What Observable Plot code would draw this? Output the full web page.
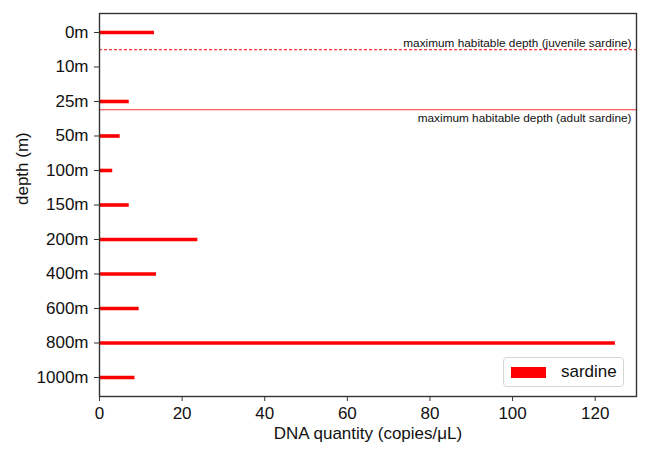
<!DOCTYPE html>
<html>
<head>
<meta charset="utf-8">
<script src="https://cdn.jsdelivr.net/npm/d3@7"></script>
<script src="https://cdn.jsdelivr.net/npm/@observablehq/plot@0.6"></script>
<style>
  body { margin: 0; background: #fff; font-family: "Liberation Sans", Arial, sans-serif; }
  #wrap { position: relative; width: 650px; height: 455px; }
  #legend {
    position: absolute; left: 503px; top: 357px; width: 119px; height: 28px;
    border: 1px solid #d6d6d6; border-radius: 4px; background: rgba(255,255,255,0.8);
    box-sizing: content-box;
  }
  #legend .sw { position: absolute; left: 7px; top: 9px; width: 35px; height: 11px; background: #ff0000; }
  #legend .lb { position: absolute; left: 57px; top: 4px; font-size: 17px; color: #111; line-height: 20px; }
</style>
</head>
<body>
<div id="wrap"></div>
<script>
const depths = ["0m","10m","25m","50m","100m","150m","200m","400m","600m","800m","1000m"];
const sardine = [13.3, 0, 7.2, 5.0, 3.2, 7.2, 23.8, 13.8, 9.6, 124.9, 8.6];
const xTicks = [0, 20, 40, 60, 80, 100, 120];
const thresholdLabels = ["maximum habitable depth (juvenile sardine)", "maximum habitable depth (adult sardine)"];
const thresholdPositions = [0.5, 2.24];
const thresholdDash = ["3,2", null];

const rows = depths.map((d, i) => ({depth: d, idx: i, value: sardine[i]})).filter(r => r.value > 0);
const lines = thresholdLabels.map((t, i) => ({label: t, pos: thresholdPositions[i], dash: thresholdDash[i]}));

const chart = Plot.plot({
  width: 650,
  height: 455,
  marginLeft: 99,
  marginRight: 14,
  marginTop: 13,
  marginBottom: 59,
  style: {fontFamily: "'Liberation Sans', Arial, sans-serif", fontSize: "17px", color: "#111", background: "#fff"},
  x: {domain: [0, 130]},
  y: {domain: [10.55, -0.55]},
  marks: [
    Plot.ruleY(rows, {y: "idx", x1: 0, x2: "value", stroke: "#ff0000", strokeWidth: 3.6}),
    Plot.ruleY([lines[0]], {y: "pos", stroke: "#ff0000", strokeWidth: 1, strokeDasharray: "3,2"}),
    Plot.ruleY([lines[1]], {y: "pos", stroke: "#ff3333", strokeWidth: 1.2}),
    Plot.text([lines[0]], {x: 130, y: "pos", text: "label", textAnchor: "end", dx: -5, dy: -7, fontSize: 11.8, fill: "#111"}),
    Plot.text([lines[1]], {x: 130, y: "pos", text: "label", textAnchor: "end", dx: -5, dy: 8, fontSize: 11.8, fill: "#111"}),
    Plot.frame({stroke: "#333", strokeWidth: 1.4}),
    Plot.axisX({ticks: xTicks, tickSize: 5, tickPadding: 5, label: null, fontSize: 17, stroke: "#333"}),
    Plot.axisY({ticks: depths.map((d, i) => i), tickFormat: i => depths[i], tickSize: 5, tickPadding: 6, label: null, fontSize: 17, stroke: "#333"}),
    Plot.text(["DNA quantity (copies/μL)"], {frameAnchor: "bottom", dy: 42, text: d => d, fontSize: 17, fill: "#111"}),
    Plot.text(["depth (m)"], {frameAnchor: "left", dx: -77, rotate: -90, text: d => d, fontSize: 17, fill: "#111"})
  ]
});

const wrap = document.getElementById("wrap");
wrap.appendChild(chart);
const legend = document.createElement("div");
legend.id = "legend";
legend.innerHTML = '<div class="sw"></div><div class="lb">sardine</div>';
wrap.appendChild(legend);
</script>
</body>
</html>
